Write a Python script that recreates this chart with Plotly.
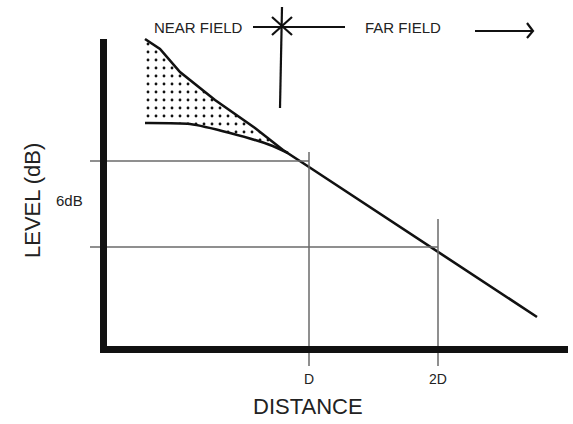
import plotly.graph_objects as go

# ---- data (diagram units: x = distance, y = level; schematic, arbitrary units) ----
level_distance = [145, 160, 180, 215, 255, 283, 309, 537]
level_value = [385, 375, 352, 324, 296, 274, 257, 107]

near_distance = [145, 190, 230, 270, 288]
near_value = [301, 300, 291, 279, 271]

tick_positions = [309, 438]
tick_labels = ["D", "2D"]
ref_levels = [263, 177]          # levels at D and 2D (6 dB apart)
ref_label = "6dB"

W, H = 573, 424
AX_X, AX_Y = 103.5, 74.5          # axis corner (origin)
AX_TOP, AX_RIGHT = 385, 568

fig = go.Figure()

# dotted near-field region (between the upper line and the near-field curve)
n_up = 6
poly_x = level_distance[:n_up] + [near_distance[-1]] + near_distance[::-1]
poly_y = level_value[:n_up] + [near_value[-1]] + near_value[::-1]
fig.add_trace(go.Scatter(
    x=poly_x, y=poly_y, fill="toself", mode="none",
    fillcolor="rgba(255,255,255,0)",
    fillpattern=dict(shape=".", size=8, solidity=0.1, fgcolor="#111111",
                     bgcolor="rgba(255,255,255,0)", fillmode="replace"),
    hoverinfo="skip", showlegend=False))

# reference lines
line_style = dict(color="#6a6a6a", width=1.5)
for xp, lv, top in zip(tick_positions, ref_levels, [272, 205]):
    fig.add_shape(type="line", x0=90, x1=xp, y0=lv, y1=lv, line=line_style)
    fig.add_shape(type="line", x0=xp, x1=xp, y0=58, y1=top, line=line_style)

# main level curve and near-field curve
fig.add_trace(go.Scatter(x=level_distance, y=level_value, mode="lines",
                         line=dict(color="#111111", width=2.6),
                         hoverinfo="skip", showlegend=False))
fig.add_trace(go.Scatter(x=near_distance, y=near_value, mode="lines",
                         line=dict(color="#111111", width=2.6, shape="spline", smoothing=0.6),
                         hoverinfo="skip", showlegend=False))

# thick axes
fig.add_shape(type="line", x0=AX_X, x1=AX_X, y0=71, y1=AX_TOP,
              line=dict(color="#111111", width=7))
fig.add_shape(type="line", x0=100, x1=AX_RIGHT, y0=AX_Y, y1=AX_Y,
              line=dict(color="#111111", width=7))

# near / far field marker at the top
blk = dict(color="#111111", width=2.2)
fig.add_shape(type="line", x0=253, x1=345, y0=397, y1=397, line=blk)
fig.add_shape(type="line", x0=282, x1=280, y0=417, y1=316, line=blk)
fig.add_shape(type="line", x0=272, x1=292, y0=407, y1=389, line=blk)
fig.add_shape(type="line", x0=272, x1=292, y0=389, y1=407, line=blk)
# far-field arrow
fig.add_shape(type="line", x0=475, x1=533, y0=393, y1=393, line=blk)
fig.add_shape(type="path", path="M 527 401 L 533 393 L 527 386", line=blk)

txt = "#222222"
F = "Liberation Sans, Arial, sans-serif"
ann = [
    dict(x=198.5, y=397, text="NEAR FIELD", size=15),
    dict(x=403, y=397, text="FAR FIELD", size=15),
    dict(x=69, y=223.5, text=ref_label, size=15),
    dict(x=308, y=18, text="DISTANCE", size=22),
]
for a in ann:
    fig.add_annotation(x=a["x"], y=a["y"], text=a["text"], showarrow=False,
                       xanchor="center", yanchor="middle",
                       font=dict(family=F, size=a["size"], color=txt))
for xp, lab in zip(tick_positions, tick_labels):
    fig.add_annotation(x=xp, y=45, text=lab, showarrow=False,
                       xanchor="center", yanchor="middle",
                       font=dict(family=F, size=14, color=txt))
fig.add_annotation(x=32, y=223, text="LEVEL (dB)", showarrow=False, textangle=-90,
                   xanchor="center", yanchor="middle",
                   font=dict(family=F, size=22, color=txt))

fig.update_layout(
    width=W, height=H, margin=dict(l=0, r=0, t=0, b=0),
    paper_bgcolor="white", plot_bgcolor="white",
    xaxis=dict(range=[0, W], visible=False, fixedrange=True),
    yaxis=dict(range=[0, H], visible=False, fixedrange=True),
)

fig.write_html("out.html", config={"displayModeBar": False},
               post_script="document.body.style.margin='0';")
